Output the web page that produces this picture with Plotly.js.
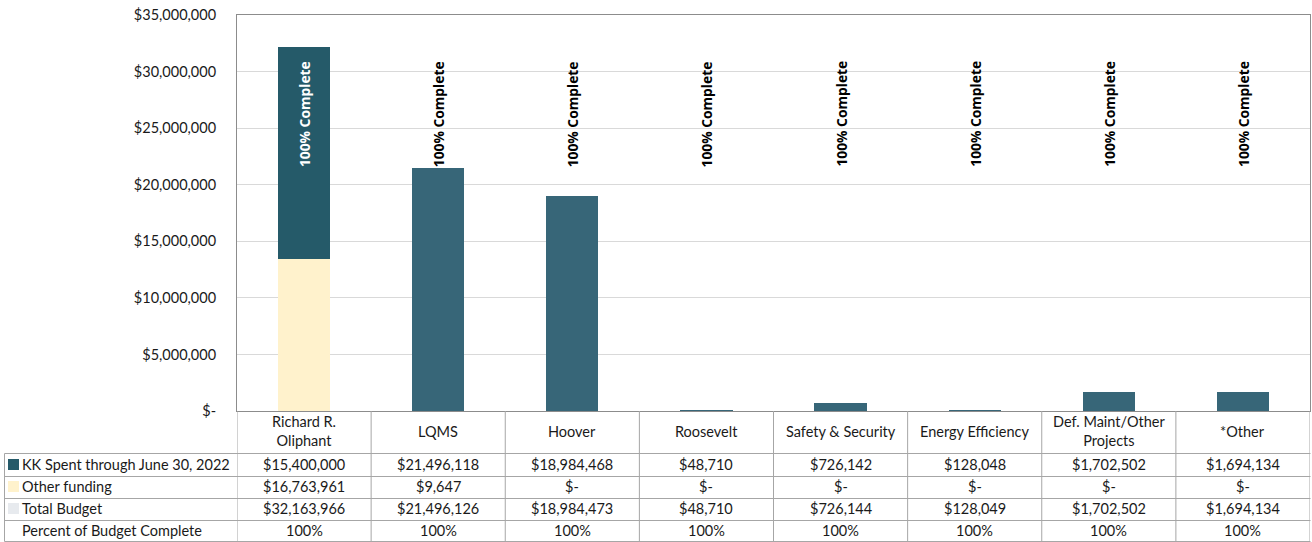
<!DOCTYPE html>
<html><head><meta charset="utf-8">
<script src="https://cdn.plot.ly/plotly-3.0.1.min.js"></script>
<style>html,body{margin:0;padding:0;background:#fff}#chart{width:1312px;height:542px}</style>
</head><body><div id="chart"></div>
<script>
// ---- data ----
const categories = ['Richard R.<br>Oliphant', 'LQMS', 'Hoover', 'Roosevelt', 'Safety & Security', 'Energy Efficiency', 'Def. Maint/Other<br>Projects', '*Other'];
// values drawn as bars
const barOtherFunding = [13400000, 0, 0, 0, 0, 0, 0, 0];
const barSpent = [18763966, 21496118, 18984468, 48710, 726142, 128048, 1702502, 1694134];
// data table values
const kkSpent = [15400000, 21496118, 18984468, 48710, 726142, 128048, 1702502, 1694134];
const otherFunding = [16763961, 9647, 0, 0, 0, 0, 0, 0];
const totalBudget = [32163966, 21496126, 18984473, 48710, 726144, 128049, 1702502, 1694134];
const percentComplete = [1, 1, 1, 1, 1, 1, 1, 1];
const rowLabels = ['KK Spent through June 30, 2022', 'Other funding', 'Total Budget', 'Percent of Budget Complete'];
const barLabel = '100% Complete';
const yTickVals = [0, 5000000, 10000000, 15000000, 20000000, 25000000, 30000000, 35000000];

// ---- helpers ----
const money = v => v === 0 ? '$-' : '$' + v.toLocaleString('en-US');
const pct = v => Math.round(v * 100) + '%';

const W = 1312, H = 542;
const L = 237, R = 2, T = 15, B = 131;
const pw = W - L - R, ph = H - T - B;
const px = x => (x - L) / pw;          // pixel x -> paper x
const py = y => (H - B - y) / ph;      // pixel y -> paper y

const FONT = 'Lato, "Open Sans", sans-serif';
const FS = 14.5;
const LINE = '#a6a6a6';

const traces = [
  {type: 'bar', name: 'Other funding', x: categories, y: barOtherFunding, width: 0.39,
   marker: {color: '#FFF2CC'}, hoverinfo: 'skip'},
  {type: 'bar', name: 'KK Spent', x: categories, y: barSpent, width: 0.39,
   marker: {color: categories.map((c, i) => i === 0 ? '#255A69' : '#376678')}, hoverinfo: 'skip'}
];

const annotations = [];
const shapes = [];

// "100% Complete" labels
categories.forEach((c, i) => {
  annotations.push({x: c, xref: 'x', y: py(59), yref: 'paper', yanchor: 'top', xanchor: 'center',
    text: '<b>' + barLabel + '</b>', textangle: -90, showarrow: false,
    font: {family: '"Open Sans", sans-serif', size: 13.8, color: i === 0 ? '#ffffff' : '#000000'}});
});

// category header row
categories.forEach(c => {
  annotations.push({x: c, xref: 'x', y: py(431), yref: 'paper', yanchor: 'middle', xanchor: 'center',
    text: c, showarrow: false, font: {family: FONT, size: FS, color: '#1a1a1a'}});
});

// table rows
const rowCenters = [464.5, 486.5, 508.5, 530.5];
const rowData = [kkSpent.map(money), otherFunding.map(money), totalBudget.map(money), percentComplete.map(pct)];
rowData.forEach((vals, r) => {
  vals.forEach((v, i) => {
    annotations.push({x: categories[i], xref: 'x', y: py(rowCenters[r]), yref: 'paper', yanchor: 'middle', xanchor: 'center',
      text: v, showarrow: false, font: {family: FONT, size: FS, color: '#1a1a1a'}});
  });
  annotations.push({x: px(20), xref: 'paper', y: py(rowCenters[r]), yref: 'paper', yanchor: 'middle', xanchor: 'left',
    text: rowLabels[r], showarrow: false, font: {family: FONT, size: FS, color: '#1a1a1a'}});
});

// legend keys in the table
const keyColors = ['#255A69', '#FFF2CC', '#E7EAEE'];
keyColors.forEach((col, r) => {
  shapes.push({type: 'rect', xref: 'paper', yref: 'paper', x0: px(8), x1: px(19),
    y0: py(rowCenters[r] + 5.5), y1: py(rowCenters[r] - 5.5), fillcolor: col, line: {width: 0}});
});

// table grid lines
[453.5, 476.5, 498.5, 520.5, 541.5].forEach(yy => {
  shapes.push({type: 'line', xref: 'paper', yref: 'paper', x0: px(4.5), x1: px(1310.5), y0: py(yy), y1: py(yy),
    line: {color: LINE, width: 1}});
});
shapes.push({type: 'line', xref: 'paper', yref: 'paper', x0: px(4.5), x1: px(4.5), y0: py(453.5), y1: py(541.5),
  line: {color: LINE, width: 1}});
for (let i = 0; i <= categories.length; i++) {
  shapes.push({type: 'line', xref: 'x', yref: 'paper', x0: i - 0.5, x1: i - 0.5, y0: 0, y1: py(541.5),
    line: {color: LINE, width: 1}});
}

const layout = {
  width: W, height: H,
  margin: {l: L, r: R, t: T, b: B, pad: 0},
  paper_bgcolor: '#ffffff', plot_bgcolor: '#ffffff',
  barmode: 'stack', showlegend: false,
  font: {family: FONT, size: FS, color: '#1a1a1a'},
  xaxis: {type: 'category', showticklabels: false, ticks: '', showgrid: false,
    showline: true, mirror: true, linecolor: '#8c8c8c', linewidth: 1, range: [-0.5, categories.length - 0.5], fixedrange: true},
  yaxis: {range: [0, 35000000], tickvals: yTickVals, ticktext: yTickVals.map(money),
    showgrid: true, gridcolor: '#d9d9d9', gridwidth: 1, zeroline: false,
    showline: true, mirror: true, linecolor: '#8c8c8c', linewidth: 1,
    ticks: 'outside', ticklen: 17, tickcolor: 'rgba(0,0,0,0)', fixedrange: true,
    tickfont: {family: FONT, size: FS, color: '#1a1a1a'}},
  annotations: annotations,
  shapes: shapes
};

Plotly.newPlot('chart', traces, layout, {staticPlot: true, displayModeBar: false});
</script>
</body></html>
